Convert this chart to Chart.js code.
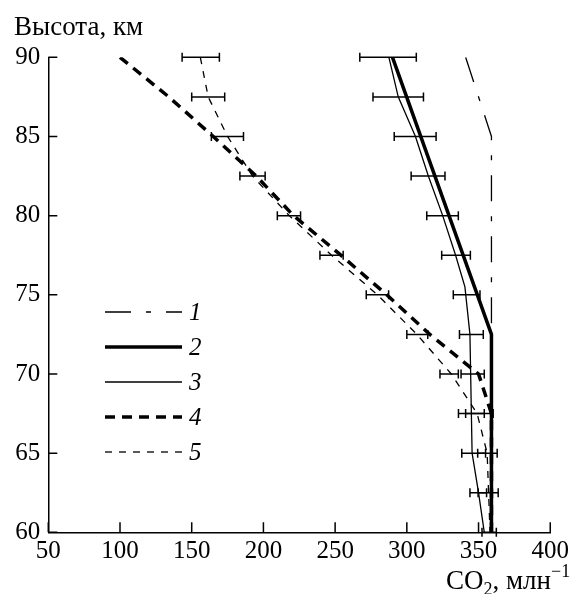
<!DOCTYPE html>
<html>
<head>
<meta charset="utf-8">
<script src="https://cdn.jsdelivr.net/npm/chart.js@4.4.1/dist/chart.umd.min.js"></script>
<style>
  html, body { margin: 0; padding: 0; background: #fff; }
  #wrap { position: relative; width: 573px; height: 594px; }
</style>
</head>
<body>
<div id="wrap"><canvas id="co2"></canvas></div>
<script>
// altitude levels, km
const heights = [90, 87.5, 85, 82.5, 80, 77.5, 75, 72.5, 70, 67.5, 65, 62.5, 60];

// profile 1 (dash-dot)
const h1 = [90, 85, 60];
const co2_1 = [341, 359, 359];
// profile 2 (thick solid)
const h2 = [90, 72.5, 60];
const co2_2 = [290, 359, 359];
// profile 3 (thin solid)
const h3 = [90, 87.5, 85, 82.5, 80, 77.5, 75.5, 72.5, 70, 67.5, 65, 62.5, 60];
const co2_3 = [287.5, 294, 306, 315, 325, 334, 340.5, 344, 344.5, 345, 345.5, 350, 354];
// profile 4 (thick dashed)
const h4 = [90, 87.5, 85, 82.5, 80, 77.5, 75, 72.5, 70, 67.5, 60];
const co2_4 = [100, 134, 165, 195, 221, 254, 286, 316, 350, 359, 359];
// profile 5 (thin dashed)
const co2_5 = [156, 161.5, 175, 192.4, 218, 247.5, 279.5, 307, 331, 349, 356, 357, 358];

// error bars: centre and half-width per level
const errMid5 = [156.3, 161.5, 174.9, 192.4, 217.8, 247.5, 279.5, 307.3, 329.5, 350.6, 356.2, 356.7, 357.4];
const errHalf5 = [13, 11.5, 11.2, 8.8, 8.1, 8.1, 7.8, 7.3, 6.4, 9.6, 6.8, 7, 5];
const errH3 = heights.slice(0, 12);
const errMid3 = [286.9, 294, 305.8, 314.8, 324.9, 334.3, 341.7, 345, 345.9, 345, 346.6, 349.8];
const errHalf3 = [19.7, 17.6, 14.6, 11.8, 11, 10, 9.3, 8.3, 8.1, 9, 8.3, 5.8];

const labels = ['1', '2', '3', '4', '5'];

const serif = "'Liberation Serif', 'DejaVu Serif', serif";
const pts = (hs, vs) => hs.map((h, i) => ({ x: vs[i], y: h }));

const errorBars = {
  id: 'errorBars',
  afterDatasetsDraw(chart) {
    const { ctx, scales: { x, y } } = chart;
    const sets = [[heights, errMid5, errHalf5], [errH3, errMid3, errHalf3]];
    ctx.save();
    ctx.strokeStyle = '#000'; ctx.lineWidth = 1.5; ctx.setLineDash([]);
    sets.forEach(([hs, mid, half]) => {
      hs.forEach((h, i) => {
        const py = y.getPixelForValue(h);
        const x0 = x.getPixelForValue(mid[i] - half[i]);
        const x1 = x.getPixelForValue(mid[i] + half[i]);
        ctx.beginPath();
        ctx.moveTo(x0, py); ctx.lineTo(x1, py);
        ctx.moveTo(x0, py - 4.5); ctx.lineTo(x0, py + 4.5);
        ctx.moveTo(x1, py - 4.5); ctx.lineTo(x1, py + 4.5);
        ctx.stroke();
      });
    });
    ctx.restore();
  }
};

// ticks point inwards from the axis lines
const innerTicks = {
  id: 'innerTicks',
  afterDraw(chart) {
    const { ctx, chartArea: a, scales: { x, y } } = chart;
    ctx.save();
    ctx.strokeStyle = '#000'; ctx.lineWidth = 1.5;
    ctx.beginPath();
    y.ticks.forEach(t => { const p = y.getPixelForValue(t.value); ctx.moveTo(a.left, p); ctx.lineTo(a.left + 9, p); });
    x.ticks.forEach(t => { const p = x.getPixelForValue(t.value); ctx.moveTo(p, a.bottom); ctx.lineTo(p, a.bottom - 10); });
    ctx.stroke();
    ctx.restore();
  }
};

const keyBox = {
  id: 'keyBox',
  afterDraw(chart) {
    const { ctx } = chart;
    ctx.save();
    chart.data.datasets.forEach((ds, i) => {
      const yy = 312 + i * 35;
      ctx.strokeStyle = '#000';
      ctx.lineWidth = ds.borderWidth;
      ctx.setLineDash(ds.borderDash || []);
      ctx.beginPath(); ctx.moveTo(105, yy); ctx.lineTo(182, yy); ctx.stroke();
      ctx.setLineDash([]);
      ctx.fillStyle = '#000';
      ctx.font = 'italic 25px ' + serif;
      ctx.textBaseline = 'middle';
      ctx.fillText(ds.label, 189, yy + 1);
    });

    // axis titles
    ctx.font = '27px ' + serif;
    ctx.textBaseline = 'alphabetic';
    ctx.fillText('Высота, км', 14, 35);
    let cx = 446;
    const by = 589;
    ctx.fillText('CO', cx, by); cx += ctx.measureText('CO').width;
    ctx.font = '18px ' + serif;
    ctx.fillText('2', cx, by + 6); cx += ctx.measureText('2').width;
    ctx.font = '27px ' + serif;
    ctx.fillText(', млн', cx, by); cx += ctx.measureText(', млн').width;
    ctx.font = '18px ' + serif;
    ctx.fillText('−1', cx, by - 12);
    ctx.restore();
  }
};

new Chart(document.getElementById('co2'), {
  type: 'scatter',
  data: {
    datasets: [
      { label: labels[0], data: pts(h1, co2_1), borderWidth: 1.3, borderDash: [26, 15, 5, 15] },
      { label: labels[1], data: pts(h2, co2_2), borderWidth: 3.5 },
      { label: labels[2], data: pts(h3, co2_3), borderWidth: 1.3 },
      { label: labels[3], data: pts(h4, co2_4), borderWidth: 3.5, borderDash: [10, 7] },
      { label: labels[4], data: pts(heights, co2_5), borderWidth: 1.3, borderDash: [7, 7] },
    ].map(d => Object.assign(d, { showLine: true, pointRadius: 0, borderColor: '#000', backgroundColor: '#000', tension: 0, fill: false }))
  },
  options: {
    responsive: true,
    maintainAspectRatio: false,
    animation: false,
    layout: { padding: { top: 57.3, right: 20.7, left: 0, bottom: 0 } },
    plugins: { legend: { display: false }, tooltip: { enabled: false } },
    scales: {
      x: {
        type: 'linear', min: 50, max: 400,
        ticks: { stepSize: 50, color: '#000', font: { family: serif, size: 25 }, padding: 4, maxRotation: 0 },
        grid: { display: false, drawTicks: false },
        border: { display: true, color: '#000', width: 1.5 },
        afterFit: s => { s.height = 61.7; }
      },
      y: {
        type: 'linear', min: 60, max: 90,
        ticks: { stepSize: 5, color: '#000', font: { family: serif, size: 25 }, padding: 8 },
        grid: { display: false, drawTicks: false },
        border: { display: true, color: '#000', width: 1.5 },
        afterFit: s => { s.width = 48.3; }
      }
    }
  },
  plugins: [errorBars, innerTicks, keyBox]
});
</script>
</body>
</html>
